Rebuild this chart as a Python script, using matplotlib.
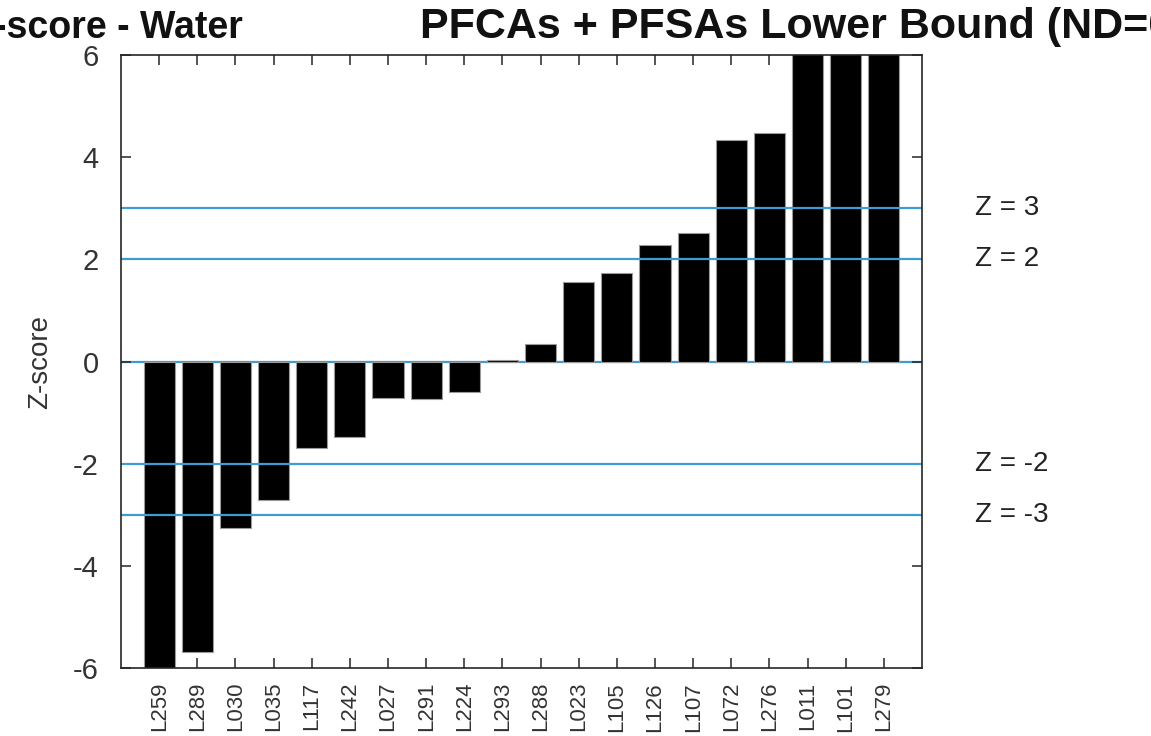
import matplotlib
matplotlib.use("Agg")
import matplotlib.pyplot as plt
import numpy as np

plt.rcParams['font.family'] = ['Liberation Sans', 'DejaVu Sans']
plt.rcParams['axes.unicode_minus'] = False

labs = ["L259", "L289", "L030", "L035", "L117", "L242", "L027", "L291", "L224", "L293",
        "L288", "L023", "L105", "L126", "L107", "L072", "L276", "L011", "L101", "L279"]
zscores = [-7.5, -5.68, -3.26, -2.71, -1.69, -1.48, -0.72, -0.74, -0.60, 0.02,
           0.34, 1.56, 1.73, 2.28, 2.51, 4.33, 4.47, 8.0, 8.0, 8.0]
zlines = [3, 2, -2, -3]
zline_labels = ["Z = 3", "Z = 2", "Z = -2", "Z = -3"]
title_left = "Z-score - Water"
title_right = "PFCAs + PFSAs Lower Bound (ND=0)"

fig = plt.figure(figsize=(11.51, 7.36), dpi=100)
ax = fig.add_axes([121/1151, 1-668/736, (922-121)/1151, (668-55)/736])

x = np.arange(1, len(labs)+1)
ax.bar(x, zscores, width=0.82, color='black', edgecolor='#9a9a9a', linewidth=0.8, zorder=2)

line_color = '#3d9bd6'
for z in zlines:
    ax.axhline(z, color=line_color, lw=1.6, zorder=3)
ax.axhline(0, color=line_color, lw=1.6, zorder=1)

for z, t in zip(zlines, zline_labels):
    ax.text(22.4, z, t, fontsize=20, va='center', ha='left', color='#222222', clip_on=False)

ax.set_xlim(0, 21)
ax.set_ylim(-6, 6)
ax.set_yticks([-6, -4, -2, 0, 2, 4, 6])
ax.set_xticks(x)
ax.set_xticklabels(labs, rotation=90, fontsize=16, color='#333333')
ax.tick_params(axis='y', labelsize=21, labelcolor='#333333')
ax.tick_params(direction='in', top=True, right=True, length=7, width=1.1, color='#262626')
ax.tick_params(axis='x', pad=10)
ax.tick_params(axis='y', pad=16)
ax.set_ylabel('Z-score', fontsize=20, color='#333333', labelpad=14)
for s in ax.spines.values():
    s.set_linewidth(1.2)
    s.set_color('#262626')
    s.set_zorder(5)

fig.text(243/1151, 1-38/736, title_left, ha='right', va='baseline', fontsize=27, fontweight='bold', color='#111111')
fig.text(420/1151, 1-38/736, title_right, ha='left', va='baseline', fontsize=31, fontweight='bold', color='#111111')

fig.savefig('out.png', dpi=100)
